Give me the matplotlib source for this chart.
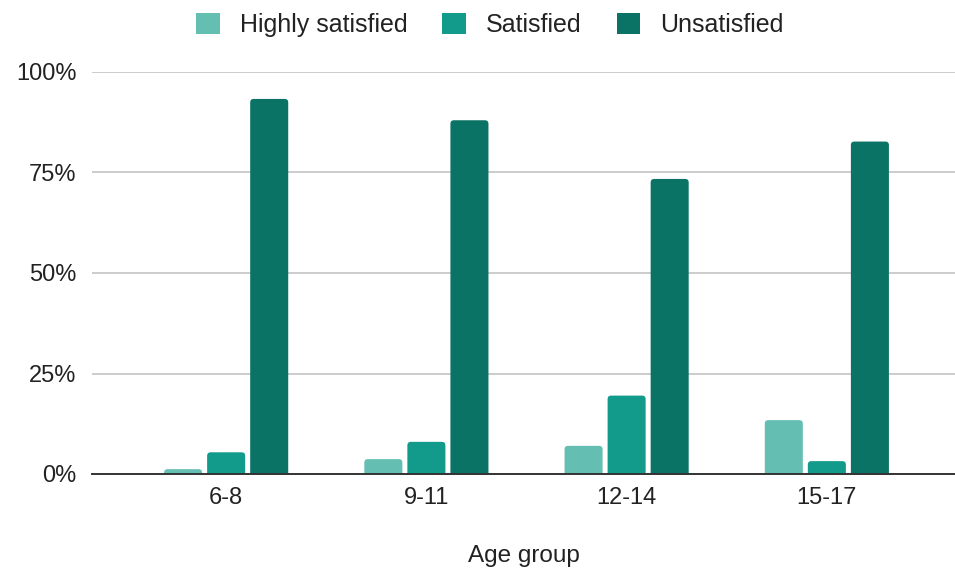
import matplotlib.pyplot as plt
from matplotlib.patches import FancyBboxPatch, Patch
from matplotlib.ticker import PercentFormatter
import numpy as np

plt.rcParams['font.family'] = ['Liberation Sans', 'DejaVu Sans']

# satisfaction share by age group, in percent
groups = ['6-8', '9-11', '12-14', '15-17']
highly_satisfied = [1.2, 3.7, 7.0, 13.4]
satisfied = [5.4, 8.0, 19.5, 3.2]
unsatisfied = [93.3, 88.0, 73.4, 82.7]

series = [('Highly satisfied', highly_satisfied, '#65beb2'),
          ('Satisfied', satisfied, '#129a8b'),
          ('Unsatisfied', unsatisfied, '#0b7366')]

fig = plt.figure(figsize=(9.55, 5.8), dpi=100)
ax = fig.add_axes([92 / 955, 1 - 474 / 580, 1 - 92 / 955, (474 - 72) / 580])

xmin, xmax = -0.67, 3.64
ax.set_xlim(xmin, xmax)
ax.set_ylim(0, 100)

# corner radius in x units, aspect to keep the corners round on screen
ppx = ax.get_position().width * 955 / (xmax - xmin)
ppy = ax.get_position().height * 580 / 100
rad = 3.5 / ppx
aspect = ppx / ppy

x = np.arange(len(groups))
width = 0.19
step = 0.215
handles = []
for i, (name, vals, col) in enumerate(series):
    bars = ax.bar(x + (i - 1) * step, vals, width, color=col, zorder=3)
    for b in bars:
        b.set_visible(False)
        # start a bit below zero so only the top corners look rounded
        y0 = -rad * aspect
        p = FancyBboxPatch((b.get_x(), y0), b.get_width(), b.get_height() - y0,
                           boxstyle='round,pad=0,rounding_size=%f' % rad,
                           mutation_aspect=aspect, fc=col, ec='none', zorder=3)
        ax.add_patch(p)
    handles.append(Patch(fc=col, ec='none', label=name))

ax.set_yticks([0, 25, 50, 75, 100])
ax.yaxis.set_major_formatter(PercentFormatter(decimals=0))
ax.set_xticks(x)
ax.set_xticklabels(groups)
ax.tick_params(axis='both', length=0, labelsize=17, colors='#222222')
ax.tick_params(axis='x', pad=9)
ax.tick_params(axis='y', pad=11)
ax.grid(axis='y', color='#cccccc', linewidth=1.4, zorder=0)
for side in ['top', 'right', 'left']:
    ax.spines[side].set_visible(False)
ax.spines['bottom'].set_color('#333333')
ax.spines['bottom'].set_linewidth(1.4)
ax.spines['bottom'].set_zorder(4)

ax.set_xlabel('Age group', fontsize=17.5, color='#222222', labelpad=26)

fig.legend(handles=handles, loc='upper center', bbox_to_anchor=(0.513, 1.017), ncol=3,
           frameon=False, fontsize=18, handlelength=0.95, handleheight=0.95,
           handletextpad=0.8, columnspacing=1.4, labelcolor='#222222')

plt.savefig('out.png', dpi=100)
